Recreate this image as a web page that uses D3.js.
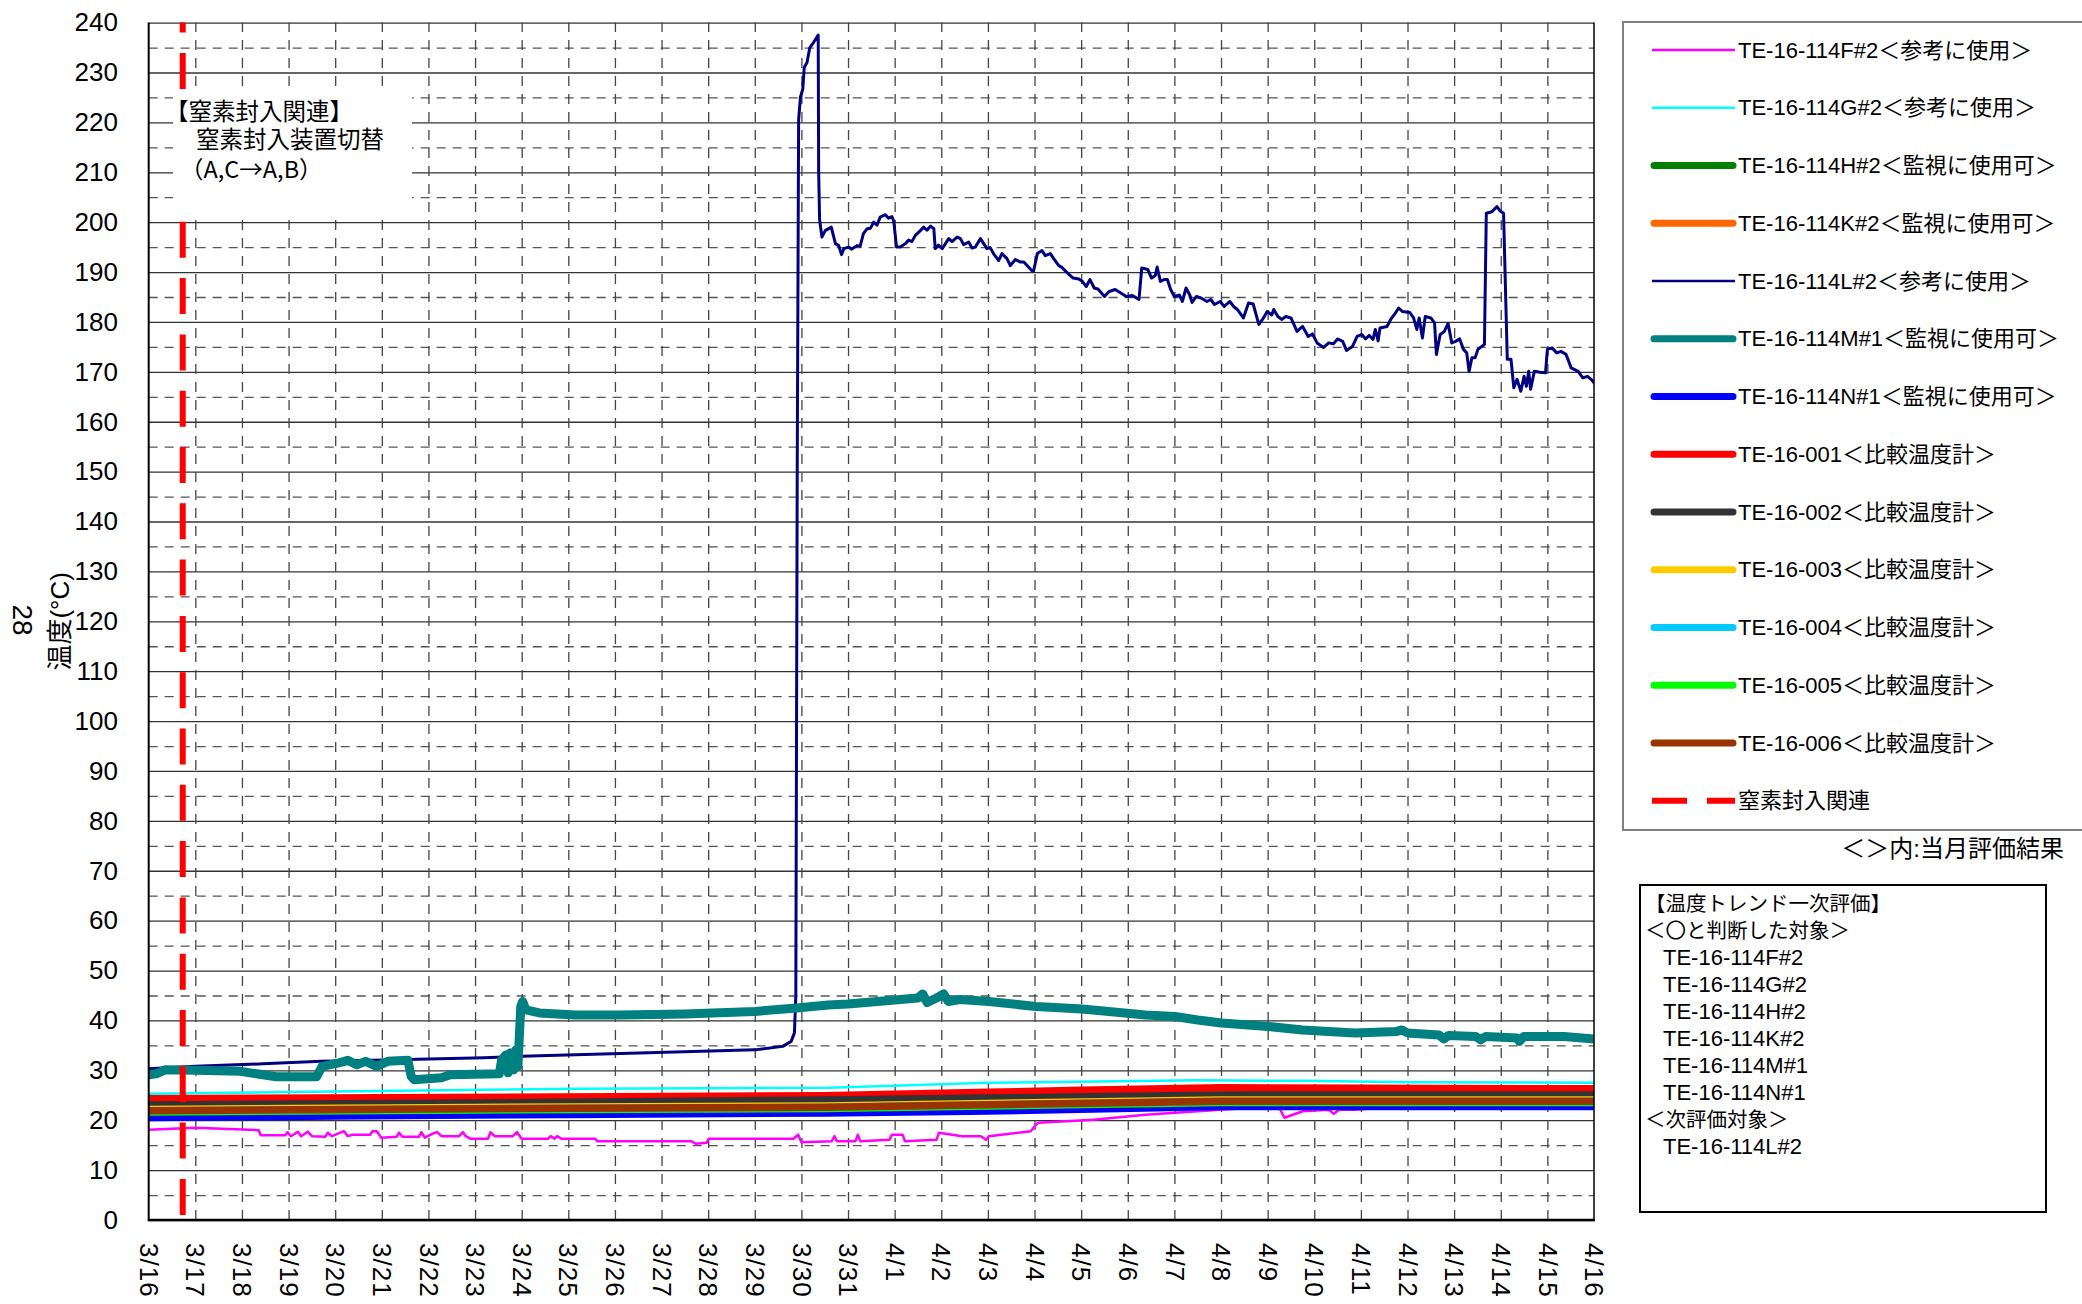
<!DOCTYPE html>
<html>
<head>
<meta charset="utf-8">
<script src="https://cdn.jsdelivr.net/npm/d3@7"></script>
<style>
  body { margin: 0; background: #fff; }
  svg text { font-family: "Liberation Sans", "Noto Sans CJK JP", sans-serif; fill: #000; }
</style>
</head>
<body>
<svg id="chart" width="2082" height="1304"></svg>
<script>
// x values are days since 3/16 0:00, y values are temperature (℃)
var xTickLabels = ["3/16","3/17","3/18","3/19","3/20","3/21","3/22","3/23","3/24","3/25","3/26",
  "3/27","3/28","3/29","3/30","3/31","4/1","4/2","4/3","4/4","4/5","4/6","4/7","4/8","4/9",
  "4/10","4/11","4/12","4/13","4/14","4/15","4/16"];
var yTicks = [0,10,20,30,40,50,60,70,80,90,100,110,120,130,140,150,160,170,180,190,200,210,220,230,240];

var teF = [[0,18.1],[1,18.5],[2.36,18],[2.4,17],[2.93,17],[2.98,17.6],[3.05,16.8],[3.2,17.7],[3.27,16.8],
  [3.41,17.7],[3.5,16.8],[3.79,16.7],[3.84,17.5],[3.93,16.8],[4.19,17.8],[4.27,16.8],[4.37,17.1],[4.75,17.1],
  [4.8,17.8],[4.89,17.8],[4.99,16.5],[5.32,16.7],[5.37,17.5],[5.44,16.7],[5.8,16.7],[5.85,17.6],[5.92,16.5],
  [6.14,17.5],[6.19,17.6],[6.28,16.8],[6.66,16.8],[6.74,17.6],[6.8,16.8],[6.9,16.3],[7.28,16.3],[7.33,17.6],
  [7.42,16.8],[7.81,16.8],[7.9,17.6],[8.0,16.3],[8.57,16.3],[8.62,16.8],[8.71,16.3],[8.76,16.8],[8.85,16.3],
  [9.58,16.3],[9.62,15.8],[11.63,15.8],[11.73,15.3],[11.97,15.5],[12.01,16.3],[13.83,16.3],[13.93,17.1],
  [14.0,15.6],[14.65,15.8],[14.71,16.8],[14.76,15.8],[15.16,15.8],[15.21,17.1],[15.26,15.8],[15.89,16.1],
  [15.94,17.1],[16.17,17.1],[16.22,15.8],[16.9,16.1],[16.95,17.5],[17.23,17.1],[17.45,16.8],[17.85,16.8],
  [17.96,16.1],[18.02,16.8],[18.92,17.8],[19.03,19.1],[19.08,19.5],[20.26,20.1],[21.38,21.1],[22.5,21.8],
  [23.63,22.5],[24.25,22.5],[24.36,20.5],[24.75,21.8],[25.31,22.1],[25.42,21.3],[25.53,22.1],[25.87,22.1],
  [26.43,22.5],[27.5,22.6],[31,22.7]];
var teG = [[0,25.3],[4.4,25.8],[9.2,26.3],[14.6,26.5],[18,27.5],[22.5,28],[24.8,27.9],[27,27.6],[31,27.5]];
var teH = [[0,22.4],[7,22.8],[14.5,23.1],[18,23.5],[23,24.2],[31,24.2]];
var teK = [[0,23.6],[7,24],[14.5,24.4],[18,24.9],[23,25.6],[31,25.5]];
var teL = [[0,30.3],[1,30.8],[2.45,31.3],[3.7,31.8],[5.3,32.1],[7.2,32.5],[8,32.8],[9.15,33.1],[11.1,33.6],
  [13,34.1],[13.6,34.8],[13.78,35.8],[13.85,37.5],[13.88,45],[13.91,150],[13.94,220.5],[13.98,225.1],
  [14.03,226.7],[14.06,231],[14.12,232],[14.18,235],[14.26,236],[14.36,237.5],[14.37,210],[14.39,200.5],
  [14.44,197],[14.51,198.3],[14.64,199],[14.73,195.7],[14.8,195.3],[14.86,193.5],[14.91,194.7],[15.01,195],
  [15.08,194.6],[15.19,195.3],[15.26,195.2],[15.33,197.7],[15.41,198.7],[15.48,198.8],[15.55,200],
  [15.62,199.4],[15.69,201],[15.8,201.5],[15.87,200.8],[15.94,201.1],[15.98,200.2],[16.04,195],[16.12,195],
  [16.23,195.7],[16.3,196.4],[16.37,196.1],[16.44,197.3],[16.55,198.3],[16.62,199],[16.69,198.4],
  [16.77,199.2],[16.84,198.7],[16.87,194.7],[16.94,195.4],[17.02,194.7],[17.09,195.7],[17.16,196.7],
  [17.23,196.1],[17.34,197],[17.41,196.7],[17.48,195.5],[17.59,196],[17.66,194.8],[17.73,195],[17.84,196.7],
  [17.91,195.7],[17.98,194.7],[18.05,194.9],[18.12,193.7],[18.23,192.3],[18.3,193.7],[18.41,192.7],
  [18.48,191.3],[18.59,192.5],[18.7,192],[18.77,192],[18.84,191.3],[18.95,190.2],[18.98,190.2],[19.06,193.7],
  [19.16,194.3],[19.23,193.3],[19.34,193.7],[19.41,192.7],[19.52,191.3],[19.58,191],[19.73,189.6],
  [19.83,188.8],[19.95,188.6],[20.03,188.1],[20.11,187.1],[20.19,188.5],[20.28,186.8],[20.36,186.6],
  [20.5,185.1],[20.6,186.1],[20.73,186.5],[20.85,185.8],[20.97,185.1],[21.1,185.3],[21.24,184.5],
  [21.3,190.8],[21.43,190.5],[21.51,188.8],[21.59,189.3],[21.63,191],[21.7,188.1],[21.78,188.5],
  [21.85,188.5],[21.92,186.5],[22,185.1],[22.11,185.4],[22.17,184.1],[22.25,186.8],[22.33,185.4],
  [22.38,183.9],[22.47,185.1],[22.57,184.8],[22.7,184.1],[22.78,184.5],[22.86,183.5],[22.98,184.1],
  [23.07,183.1],[23.19,184.1],[23.27,183.1],[23.35,182.5],[23.48,180.8],[23.59,183.8],[23.69,183.6],
  [23.81,179.5],[23.89,180.5],[23.99,182.1],[24.09,181.4],[24.13,182.5],[24.22,181.1],[24.3,180.5],
  [24.39,181.1],[24.5,180.8],[24.63,178.1],[24.75,179.1],[24.87,177.1],[24.96,177.6],[25.06,175.8],
  [25.2,174.9],[25.31,175.8],[25.41,175.6],[25.5,176.6],[25.61,176.1],[25.69,174.3],[25.82,175.1],
  [25.92,177.1],[26.02,177.5],[26.1,176.6],[26.18,177.3],[26.26,176.5],[26.31,178.5],[26.37,176.2],
  [26.41,178.8],[26.56,179.1],[26.64,180.5],[26.72,181.5],[26.81,182.8],[26.89,182.1],[27.05,181.9],
  [27.13,180.8],[27.2,178.5],[27.25,180.8],[27.32,176.8],[27.38,181.1],[27.5,180.8],[27.58,179.8],
  [27.62,173.5],[27.7,177.5],[27.79,178.1],[27.87,179.7],[27.95,175.8],[28.03,176.1],[28.12,176.6],
  [28.2,174.5],[28.27,173.8],[28.32,170.1],[28.38,172.8],[28.45,172.8],[28.51,174.5],[28.65,175.5],
  [28.69,201.8],[28.81,202.1],[28.92,203.1],[28.98,202.3],[29.06,201.8],[29.14,172.5],[29.22,172.5],
  [29.28,166.8],[29.35,168.5],[29.43,166.1],[29.5,169.1],[29.55,167.1],[29.6,170.1],[29.64,166.5],
  [29.72,170.1],[29.84,169.9],[29.96,169.8],[30,174.5],[30.1,174.8],[30.2,173.8],[30.29,174.1],
  [30.4,173.5],[30.51,170.8],[30.66,170.1],[30.76,168.8],[30.86,169.1],[30.94,168.5],[31,167.8]];
var teM = [[0,29.1],[0.16,29.3],[0.35,30.1],[1,30],[1.97,29.8],[2.45,29.1],[2.74,28.7],[3.6,28.7],[3.72,30.8],
  [4.08,31.5],[4.27,32],[4.46,31.1],[4.65,31.8],[4.89,30.8],[5.13,31.8],[5.56,32],[5.63,28.8],[5.7,28.1],
  [6.28,28.5],[6.47,29.1],[7.52,29.3],[7.57,32.1],[7.66,33.1],[7.71,29.5],[7.76,33.5],[7.83,30.1],[7.88,34.1],
  [7.92,30.8],[7.98,42.8],[8.02,43.8],[8.09,42.1],[8.38,41.5],[9.15,41.1],[10.1,41.1],[11.5,41.3],[13,41.8],
  [13.9,42.5],[14.57,43.1],[15,43.3],[16,44.1],[16.5,44.5],[16.6,45.3],[16.7,43.6],[16.9,44.5],[17.05,45.3],
  [17.15,43.8],[17.4,44.2],[18.02,43.8],[19.03,42.8],[20.02,42.3],[21.38,41.1],[22.01,40.8],[22.5,40.1],
  [23.01,39.5],[24.01,38.8],[24.75,38.1],[25.87,37.5],[26.77,37.8],[26.88,38.1],[27,37.5],[27.67,37.1],
  [27.78,36.3],[27.88,37],[28.46,36.8],[28.57,36.1],[28.68,36.8],[29.35,36.5],[29.4,35.8],[29.5,36.8],
  [30.36,36.8],[31,36.3]];
var teN = [[0,20.5],[4,20.8],[9,21.1],[14.5,21.4],[18,21.8],[23,22.7],[31,22.7]];
var te001 = [[0,24.3],[5,24.5],[10,24.7],[14.5,24.9],[18,25.6],[20,26],[23,26.5],[26,26.4],[31,26.3]];
var te002 = [[0,23.1],[7,23.5],[14.5,24.1],[18,24.5],[23,25.1],[31,25.1]];
var te003 = [[0,22.2],[7,22.6],[14.5,22.9],[18,23.4],[23,24.1],[31,24.1]];
var te004 = [[0,21.9],[7,22.3],[14.5,22.6],[18,23.1],[23,23.8],[31,23.8]];
var te005 = [[0,21.6],[7,22.0],[14.5,22.3],[18,22.8],[23,23.5],[31,23.5]];
var te006 = [[0,21.9],[7,22.3],[14.5,22.6],[18,23.1],[23,23.8],[31,23.8]];
var nitrogenEvents = [0.73];

var seriesLabels = ["TE-16-114F#2＜参考に使用＞","TE-16-114G#2＜参考に使用＞","TE-16-114H#2＜監視に使用可＞",
  "TE-16-114K#2＜監視に使用可＞","TE-16-114L#2＜参考に使用＞","TE-16-114M#1＜監視に使用可＞",
  "TE-16-114N#1＜監視に使用可＞","TE-16-001＜比較温度計＞","TE-16-002＜比較温度計＞","TE-16-003＜比較温度計＞",
  "TE-16-004＜比較温度計＞","TE-16-005＜比較温度計＞","TE-16-006＜比較温度計＞"];
var evalLines = ["【温度トレンド一次評価】","＜〇と判断した対象＞","TE-16-114F#2","TE-16-114G#2","TE-16-114H#2",
  "TE-16-114K#2","TE-16-114M#1","TE-16-114N#1","＜次評価対象＞","TE-16-114L#2"];

var series = [
  {data: teF, color: "#FF00FF", width: 2.5},
  {data: teG, color: "#00FFFF", width: 2.5},
  {data: teH, color: "#008000", width: 7},
  {data: teK, color: "#FF6600", width: 7},
  {data: teL, color: "#000080", width: 3},
  {data: teM, color: "#008080", width: 9},
  {data: teN, color: "#0000FF", width: 7},
  {data: te001, color: "#FF0000", width: 7.5},
  {data: te002, color: "#333333", width: 7},
  {data: te003, color: "#FFCC00", width: 7},
  {data: te004, color: "#00CCFF", width: 7},
  {data: te005, color: "#00FF00", width: 7},
  {data: te006, color: "#993300", width: 7.5}
];
series.forEach(function(s, i) { s.label = seriesLabels[i]; });

var plotLeft = 148.7, plotRight = 1594, plotTop = 22.6, plotBottom = 1220;
var svg = d3.select("#chart");
svg.append("rect").attr("width", 2082).attr("height", 1304).attr("fill", "#fff");

var x = d3.scaleLinear().domain([0, 31]).range([plotLeft, plotRight]);
var y = d3.scaleLinear().domain([0, 240]).range([plotBottom, plotTop]);

// horizontal grid: solid every 10, dashed at 5
svg.append("g")
  .attr("transform", "translate(" + plotLeft + ",0)")
  .call(d3.axisLeft(y).tickValues(d3.range(5, 240, 10)).tickSize(-(plotRight - plotLeft)).tickFormat(""))
  .call(function(g) {
    g.select(".domain").remove();
    g.selectAll("line").attr("stroke", "#555").attr("stroke-width", 1.3).attr("stroke-dasharray", "9,7");
  });
svg.append("g")
  .attr("transform", "translate(" + plotLeft + ",0)")
  .call(d3.axisLeft(y).tickValues(yTicks).tickSize(-(plotRight - plotLeft)).tickFormat(""))
  .call(function(g) {
    g.select(".domain").remove();
    g.selectAll("line").attr("stroke", "#333").attr("stroke-width", 1.3);
  });
// vertical grid: dashed per day
svg.append("g")
  .attr("transform", "translate(0," + plotBottom + ")")
  .call(d3.axisBottom(x).tickValues(d3.range(1, 31)).tickSize(-(plotBottom - plotTop)).tickFormat(""))
  .call(function(g) {
    g.select(".domain").remove();
    g.selectAll("line").attr("stroke", "#444").attr("stroke-width", 1.3).attr("stroke-dasharray", "10,8");
  });

svg.append("clipPath").attr("id", "plotclip")
  .append("rect").attr("x", plotLeft).attr("y", plotTop - 1)
  .attr("width", plotRight - plotLeft).attr("height", plotBottom - plotTop + 1);

var line = d3.line().x(function(d) { return x(d[0]); }).y(function(d) { return y(d[1]); });

svg.append("g").attr("clip-path", "url(#plotclip)")
  .selectAll("path")
  .data(series)
  .enter()
  .append("path")
  .attr("d", function(d) { return line(d.data); })
  .attr("fill", "none")
  .attr("stroke", function(d) { return d.color; })
  .attr("stroke-width", function(d) { return d.width; })
  .attr("stroke-linejoin", "round")
  .attr("stroke-linecap", "round");

// nitrogen event line
svg.selectAll(".event")
  .data(nitrogenEvents)
  .enter()
  .append("line")
  .attr("class", "event")
  .attr("x1", function(d) { return x(d); })
  .attr("x2", function(d) { return x(d); })
  .attr("y1", plotTop)
  .attr("y2", plotBottom)
  .attr("stroke", "#FF0000")
  .attr("stroke-width", 6)
  .attr("stroke-dasharray", "36,20.3")
  .attr("stroke-dashoffset", 26);

// annotation box
var note = svg.append("g");
note.append("rect").attr("x", 173).attr("y", 89).attr("width", 239).attr("height", 125).attr("fill", "#fff");
note.append("text").attr("x", 165).attr("y", 112).attr("dominant-baseline", "central")
  .style("font-size", "23.5px").text("【窒素封入関連】");
note.append("text").attr("x", 196).attr("y", 140).attr("dominant-baseline", "central")
  .style("font-size", "23.5px").text("窒素封入装置切替");
note.append("text").attr("x", 180).attr("y", 168).attr("dominant-baseline", "central")
  .style("font-size", "23.5px").style("font-family", "'Noto Sans CJK JP', sans-serif").text("（A,C→A,B）");

// axes frame
svg.append("line").attr("x1", plotLeft).attr("x2", plotLeft).attr("y1", plotTop).attr("y2", plotBottom)
  .attr("stroke", "#000").attr("stroke-width", 2);
svg.append("line").attr("x1", plotRight).attr("x2", plotRight).attr("y1", plotTop).attr("y2", plotBottom)
  .attr("stroke", "#000").attr("stroke-width", 1.5);
svg.append("line").attr("x1", plotLeft - 1).attr("x2", plotRight + 1).attr("y1", plotBottom).attr("y2", plotBottom)
  .attr("stroke", "#000").attr("stroke-width", 2.5);

// y axis labels
svg.append("g")
  .attr("transform", "translate(" + plotLeft + ",0)")
  .call(d3.axisLeft(y).tickValues(yTicks).tickSize(0).tickPadding(30.7))
  .call(function(g) {
    g.select(".domain").remove();
    g.selectAll("text").style("font-size", "26px").attr("fill", "#000");
  });

// x axis labels, rotated
svg.append("g")
  .attr("transform", "translate(0," + plotBottom + ")")
  .call(d3.axisBottom(x).tickValues(d3.range(0, 32)).tickSize(0).tickFormat(function(i) { return xTickLabels[i]; }))
  .call(function(g) {
    g.select(".domain").remove();
    g.selectAll("text")
      .attr("transform", "rotate(90)")
      .attr("x", 23)
      .attr("y", 0)
      .attr("dy", "0.36em")
      .style("text-anchor", "start")
      .style("font-size", "26px")
      .style("letter-spacing", "1px")
      .attr("fill", "#000");
  });

// y axis title
svg.append("text")
  .attr("transform", "translate(60," + ((plotTop + plotBottom) / 2) + ") rotate(-90)")
  .attr("text-anchor", "middle")
  .attr("dominant-baseline", "central")
  .style("font-size", "26px")
  .text("温度(°C)");
svg.append("text")
  .attr("transform", "translate(22,620) rotate(90)")
  .attr("text-anchor", "middle")
  .attr("dominant-baseline", "central")
  .style("font-size", "28px")
  .text("28");

// legend
var legend = svg.append("g");
legend.append("rect").attr("x", 1623).attr("y", 22).attr("width", 480).attr("height", 808)
  .attr("fill", "#fff").attr("stroke", "#808080").attr("stroke-width", 2);
var legendStep = 57.75;
var items = legend.selectAll(".item")
  .data(series)
  .enter()
  .append("g")
  .attr("class", "item")
  .attr("transform", function(d, i) { return "translate(0," + (50 + legendStep * i) + ")"; });
items.append("line")
  .attr("x1", function(d) { return d.width > 3 ? 1654 : 1652; })
  .attr("x2", function(d) { return d.width > 3 ? 1733 : 1735; })
  .attr("stroke", function(d) { return d.color; })
  .attr("stroke-width", function(d) { return d.width > 3 ? 7 : 2.5; })
  .attr("stroke-linecap", function(d) { return d.width > 3 ? "round" : "butt"; });
items.append("text")
  .attr("x", 1738)
  .attr("dominant-baseline", "central")
  .style("font-size", "22px")
  .text(function(d) { return d.label; });
var ny = 50 + legendStep * series.length;
legend.append("line").attr("x1", 1652).attr("x2", 1735).attr("y1", ny).attr("y2", ny)
  .attr("stroke", "#FF0000").attr("stroke-width", 6).attr("stroke-dasharray", "35,20");
legend.append("text").attr("x", 1738).attr("y", ny).attr("dominant-baseline", "central")
  .style("font-size", "22px").text("窒素封入関連");
svg.append("text").attr("x", 2064).attr("y", 848).attr("text-anchor", "end").attr("dominant-baseline", "central")
  .style("font-size", "24px").text("＜＞内:当月評価結果");

// evaluation box
var evalBox = svg.append("g");
evalBox.append("rect").attr("x", 1640).attr("y", 885).attr("width", 406).attr("height", 327)
  .attr("fill", "#fff").attr("stroke", "#000").attr("stroke-width", 2);
evalBox.selectAll("text")
  .data(evalLines)
  .enter()
  .append("text")
  .attr("x", function(d) { return d.indexOf("TE") === 0 ? 1663 : 1645; })
  .attr("y", function(d, i) { return 903 + 27.1 * i; })
  .attr("dominant-baseline", "central")
  .style("font-size", function(d) { return d.indexOf("TE") === 0 ? "22px" : "20.5px"; })
  .text(function(d) { return d; });
</script>
</body>
</html>
